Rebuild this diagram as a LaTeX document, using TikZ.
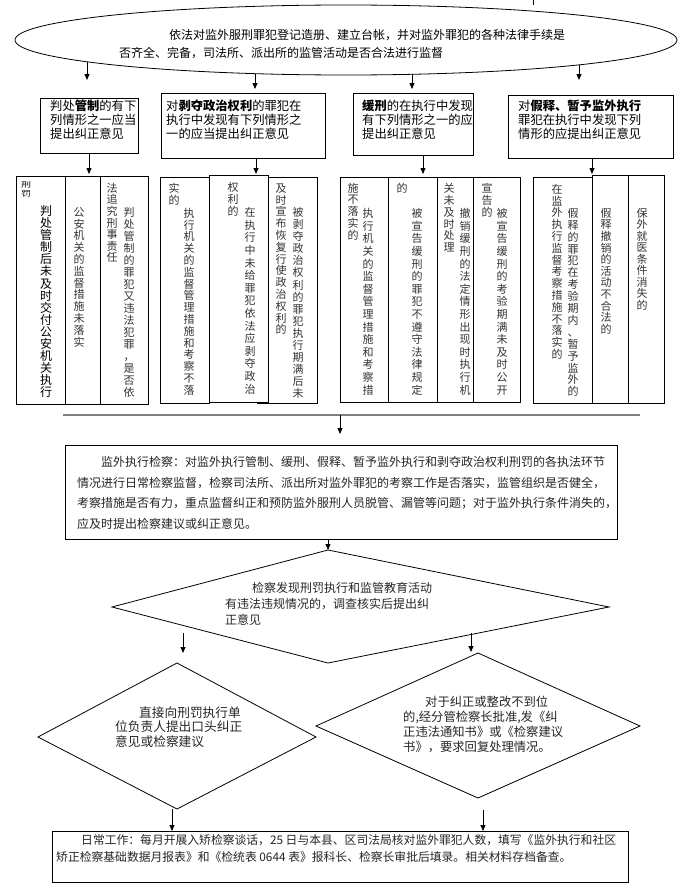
\documentclass[tikz,border=0pt]{standalone}
\usepackage{fontspec}
\usepackage{graphicx}
\setmainfont{Noto Sans CJK SC}
\usetikzlibrary{arrows.meta,shapes.geometric}
\newdimen\vpitch
\newcommand\vchars[2][12pt]{\vbox{\offinterlineskip\vpitch=#1\relax\vcharsA#2\relax}}
\def\vcharsA#1{\ifx\relax#1\else\hbox to 12pt{\hss\vrule width0pt height\dimexpr\vpitch/2+4.2pt\relax depth\dimexpr\vpitch/2-4.2pt\relax\smash{#1}\hss}\expandafter\vcharsA\fi}
\begin{document}
\begin{tikzpicture}[x=1pt,y=-1pt,
  bx/.style={draw, line width=0.8pt, fill=white, inner sep=0pt, outer sep=0pt, anchor=north west},
  arr/.style={line width=0.8pt, -{Triangle[length=6pt,width=5pt]}},
  ln/.style={line width=0.8pt},
  tx/.style={inner sep=0pt, anchor=north west, align=left},
  vt/.style={inner sep=0pt, anchor=north, font=\fontsize{11}{12}\selectfont, text=black!80},
]
\fill[white] (0,0) rectangle (685,891);
\useasboundingbox (0,0) rectangle (685,891);

% top ellipse
\node[draw, ellipse, line width=0.8pt, minimum width=662, minimum height=70, inner sep=0pt] (ell) at (346,40) {};
\node[tx, font=\fontsize{12}{18}\selectfont] (et) at (119,28.6) {\rule{0pt}{11pt}\hspace*{50pt}依法对监外服刑罪犯登记造册、建立台帐，并对监外罪犯的各种法律手续是\\否齐全、完备，司法所、派出所的监管活动是否合法进行监督};
\coordinate (tick1) at (533,0); \coordinate (tick2) at (533,5);
\draw[ln] (tick1) -- (tick2);

\coordinate (e1s) at (87,61.8);  \coordinate (e1t) at (87,80);
\coordinate (e2s) at (255,73.7); \coordinate (e2t) at (255,89);
\coordinate (e3s) at (412,74.3); \coordinate (e3t) at (412,89);
\coordinate (e4s) at (579,64.8); \coordinate (e4t) at (579,80);
\draw[arr] (e1s) -- (e1t);
\draw[arr] (e2s) -- (e2t);
\draw[arr] (e3s) -- (e3t);
\draw[arr] (e4s) -- (e4t);

% row 2 boxes
\node[bx, minimum width=98, minimum height=55] (A) at (40,98) {};
\node[bx, minimum width=164, minimum height=65] (B) at (161,93) {};
\node[bx, minimum width=120, minimum height=62] (C) at (353,93) {};
\node[bx, minimum width=165, minimum height=63] (D) at (508,95) {};
\begin{scope}[every node/.style={tx, font=\fontsize{12.3}{14}\selectfont}]
\node (tA) at (50,99.7) {\rule{0pt}{11pt}判处{\bfseries 管制}的有下\\列情形之一应当\\提出纠正意见};
\node (tB) at (166,99.7) {\rule{0pt}{11pt}对{\bfseries 剥夺政治权利}的罪犯在\\执行中发现有下列情形之\\一的应当提出纠正意见};
\node (tC) at (362,99.7) {\rule{0pt}{11pt}{\bfseries 缓刑}的在执行中发现\\有下列情形之一的应\\提出纠正意见};
\node (tD) at (518,99.7) {\rule{0pt}{11pt}对{\bfseries 假释、暂予监外执行}\\罪犯在执行中发现下列\\情形的应提出纠正意见};
\end{scope}

\coordinate (a1) at (89,174);
\coordinate (b1) at (256,174);
\coordinate (c1) at (423,174);
\coordinate (d1) at (592,174);
\draw[arr] (A.south) -- (a1);
\draw[arr] (B.south -| b1) -- (b1);
\draw[arr] (C.south -| c1) -- (c1);
\draw[arr] (D.south -| d1) -- (d1);

% column group 1
\node[bx, minimum width=49, minimum height=228] (c1a) at (16,176) {};
\node[bx, minimum width=35, minimum height=228] (c1b) at (65,176) {};
\node[bx, minimum width=48, minimum height=228] (c1c) at (100,176) {};
\node[vt, font=\fontsize{10}{10}\selectfont, text=black] (t1x) at (26,180) {\scalebox{1}[0.72]{\vchars{刑罚}}};
\node[vt, font=\fontsize{12}{12}\selectfont, text=black] (t1a) at (46,205) {\vchars[12.1pt]{判处管制后未及时交付公安机关执行}};
\node[vt] (t1b) at (79,206) {\vchars[11.8pt]{公安机关的监督措施未落实}};
\node[vt] (t1c1) at (112,182) {\vchars[11.6pt]{法追究刑事责任}};
\node[vt] (t1c2) at (129,206) {\vchars{判处管制的罪犯又违法犯罪，是否依}};

% column group 2
\node[bx, minimum width=49, minimum height=226] (c2a) at (160,177) {};
\node[bx, minimum width=60, minimum height=226] (c2c) at (257,177) {};
\node[bx, minimum width=59, minimum height=227] (c2b) at (209,175) {};
\node[vt] (t2a1) at (174,182) {\vchars{实的}};
\node[vt] (t2a2) at (189,207) {\vchars[11.8pt]{执行机关的监督管理措施和考察不落}};
\node[vt] (t2b1) at (233,181) {\vchars{权利的}};
\node[vt] (t2b2) at (250,206) {\vchars[12.6pt]{在执行中未给罪犯依法应剥夺政治}};
\node[vt] (t2c1) at (281,182) {\vchars[11.8pt]{及时宣布恢复行使政治权利的}};
\node[vt] (t2c2) at (298,206) {\vchars[12.1pt]{被剥夺政治权利的罪犯执行期满后未}};

% column group 3
\node[bx, minimum width=48, minimum height=225] (c3a) at (340,177) {};
\node[bx, minimum width=49, minimum height=225] (c3b) at (388,177) {};
\node[bx, minimum width=36, minimum height=225] (c3c) at (437,177) {};
\node[bx, minimum width=47, minimum height=225] (c3d) at (473,177) {};
\node[vt] (t3a1) at (353,182) {\vchars[11.7pt]{施不落实的}};
\node[vt] (t3a2) at (368,207) {\vchars[12.6pt]{执行机关的监督管理措施和考察措}};
\node[vt] (t3b1) at (402,182) {\vchars{的}};
\node[vt] (t3b2) at (417,207) {\vchars[12.6pt]{被宣告缓刑的罪犯不遵守法律规定}};
\node[vt] (t3c1) at (449,182) {\vchars[11.9pt]{关未及时处理}};
\node[vt] (t3c2) at (465,207) {\vchars[12.6pt]{撤销缓刑的法定情形出现时执行机}};
\node[vt] (t3d1) at (487,182) {\vchars{宣告的}};
\node[vt] (t3d2) at (502,207) {\vchars[12.6pt]{被宣告缓刑的考验期满未及时公开}};

% column group 4
\node[bx, minimum width=59, minimum height=226] (c4a) at (533,177) {};
\node[bx, minimum width=36, minimum height=228] (c4b) at (592,175) {};
\node[bx, minimum width=36, minimum height=228] (c4c) at (628,175) {};
\node[vt] (t4a1) at (557,183) {\vchars[11.8pt]{在监外执行监督考察措施不落实的}};
\node[vt] (t4a2) at (573,207) {\vchars[11.9pt]{假释的罪犯在考验期内、暂予监外的}};
\node[vt] (t4b) at (606,207) {\vchars[11.6pt]{假释撤销的活动不合法的}};
\node[vt] (t4c) at (642,207) {\vchars[11.5pt]{保外就医条件消失的}};

% gray separator
\coordinate (gl1) at (63,415); \coordinate (gl2) at (640,415);
\draw[black!50, line width=1.6pt] (gl1) -- (gl2);
\coordinate (gE) at (340,415); \coordinate (gEt) at (340,434);
\draw[arr] (gE) -- (gEt);

% box E
\node[bx, minimum width=552, minimum height=94] (E) at (65,445) {};
\node[tx, font=\fontsize{12}{20.5}\selectfont, text=black!85] (tE) at (77,455.6) {\rule{0pt}{11pt}\hspace*{24pt}监外执行检察：对监外执行管制、缓刑、假释、暂予监外执行和剥夺政治权利刑罚的各执法环节\\情况进行日常检察监督，检察司法所、派出所对监外罪犯的考察工作是否落实，监管组织是否健全，\\考察措施是否有力，重点监督纠正和预防监外服刑人员脱管、漏管等问题；对于监外执行条件消失的，\\应及时提出检察建议或纠正意见。};

% big diamond
\coordinate (bdT) at (328,550); \coordinate (bdR) at (609,607);
\coordinate (bdB) at (328,663); \coordinate (bdL) at (112,607);
\draw[ln] (bdT) -- (bdR) -- (bdB) -- (bdL) -- cycle;
\coordinate (eB) at (328,539);
\draw[arr] (E.south -| eB) -- (bdT);
\node[tx, font=\fontsize{12}{16}\selectfont, text=black!85] (tBD) at (225,581.6) {\rule{0pt}{11pt}\hspace*{27pt}检察发现刑罚执行和监管教育活动\\有违法违规情况的，调查核实后提出纠\\正意见};

% left diamond
\coordinate (ldT) at (177,663); \coordinate (ldR) at (316,737);
\coordinate (ldB) at (177,809); \coordinate (ldL) at (38,737);
\draw[ln] (ldT) -- (ldR) -- (ldB) -- (ldL) -- cycle;
\node[tx, font=\fontsize{12.7}{14.5}\selectfont, text=black!85] (tLD) at (115,705.8) {\rule{0pt}{11pt}\hspace*{24pt}直接向刑罚执行单\\位负责人提出口头纠正\\意见或检察建议};

% right diamond
\coordinate (rdT) at (478,653); \coordinate (rdR) at (640,726);
\coordinate (rdB) at (478,798); \coordinate (rdL) at (316,726);
\draw[ln] (rdT) -- (rdR) -- (rdB) -- (rdL) -- cycle;
\node[tx, font=\fontsize{12.3}{14.7}\selectfont, text=black!85] (tRD) at (403,695.7) {\rule{0pt}{11pt}\hspace*{22pt}对于纠正或整改不到位\\的,经分管检察长批准,发《纠\\正违法通知书》或《检察建议\\书》，要求回复处理情况。};

% arrows from big diamond
\coordinate (lA1) at (183,633); \coordinate (lA2) at (183,653);
\coordinate (rA1) at (471,633); \coordinate (rA2) at (471,652);
\draw[arr] (lA1) -- (lA2);
\draw[arr] (rA1) -- (rA2);

% bottom box
\node[bx, minimum width=576, minimum height=51] (F) at (52,831) {};
\coordinate (lB1) at (172,809); \coordinate (rB1) at (483,810);
\draw[arr] (lB1) -- (F.north -| lB1);
\draw[arr] (rB1) -- (F.north -| rB1);
\node[tx, font=\fontsize{11.8}{17}\selectfont, text=black!85] (tF) at (56,833.6) {\rule{0pt}{11pt}\hspace*{25pt}日常工作：每月开展入矫检察谈话，25 日与本县、区司法局核对监外罪犯人数，填写《监外执行和社区\\矫正检察基础数据月报表》和《检统表 0644 表》报科长、检察长审批后填录。相关材料存档备查。};
\end{tikzpicture}
\end{document}
